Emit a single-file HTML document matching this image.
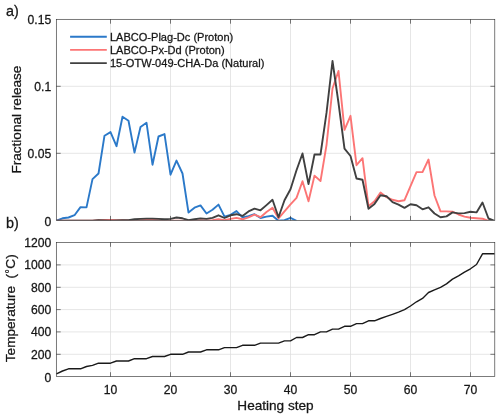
<!DOCTYPE html>
<html><head><meta charset="utf-8"><title>Fractional release and temperature by heating step</title>
<style>html,body{margin:0;padding:0;background:#fff}svg{display:block}text{font-family:"Liberation Sans",Arial,Helvetica,sans-serif;fill:#161616;stroke:#161616;stroke-width:0.26px}</style></head><body>
<svg width="500" height="418" viewBox="0 0 500 418">
<rect width="500" height="418" fill="#fff"/>
<g stroke="#dedede" stroke-width="0.75" fill="none"><line x1="110.5" y1="19.3" x2="110.5" y2="220.3"/><line x1="110.5" y1="242.4" x2="110.5" y2="376.6"/><line x1="170.5" y1="19.3" x2="170.5" y2="220.3"/><line x1="170.5" y1="242.4" x2="170.5" y2="376.6"/><line x1="230.5" y1="19.3" x2="230.5" y2="220.3"/><line x1="230.5" y1="242.4" x2="230.5" y2="376.6"/><line x1="290.5" y1="19.3" x2="290.5" y2="220.3"/><line x1="290.5" y1="242.4" x2="290.5" y2="376.6"/><line x1="350.5" y1="19.3" x2="350.5" y2="220.3"/><line x1="350.5" y1="242.4" x2="350.5" y2="376.6"/><line x1="410.5" y1="19.3" x2="410.5" y2="220.3"/><line x1="410.5" y1="242.4" x2="410.5" y2="376.6"/><line x1="470.5" y1="19.3" x2="470.5" y2="220.3"/><line x1="470.5" y1="242.4" x2="470.5" y2="376.6"/><line x1="56.3" y1="153.3" x2="494.8" y2="153.3"/><line x1="56.3" y1="86.3" x2="494.8" y2="86.3"/><line x1="56.3" y1="354.3" x2="494.8" y2="354.3"/><line x1="56.3" y1="331.9" x2="494.8" y2="331.9"/><line x1="56.3" y1="309.6" x2="494.8" y2="309.6"/><line x1="56.3" y1="287.3" x2="494.8" y2="287.3"/><line x1="56.3" y1="264.9" x2="494.8" y2="264.9"/></g>
<defs><clipPath id="c1"><rect x="56.3" y="19.3" width="438.5" height="201.0"/></clipPath></defs>
<g fill="none" stroke-width="1.9" stroke-linejoin="round" stroke-linecap="butt">
<polyline clip-path="url(#c1)" stroke="#2b79c9" points="56.5,220.7 62.5,218.3 68.5,217.5 74.5,215.2 80.5,207.1 86.5,207.4 92.5,179.1 98.5,173.5 104.5,135.7 110.5,132.1 116.5,146.2 122.5,116.7 128.5,120.7 134.5,152.6 140.5,127.0 146.5,122.7 152.5,164.7 158.5,136.5 164.5,134.1 170.5,174.7 176.5,160.6 182.5,173.5 188.5,212.6 194.5,207.7 200.5,205.4 206.5,213.5 212.5,209.8 218.5,204.6 224.5,216.7 230.5,214.8 236.5,211.1 242.5,217.4 248.5,216.1 254.5,214.2 260.5,218.0 266.5,216.6 272.5,215.7 278.5,220.8 284.5,220.1 290.5,217.8 296.5,220.8"/>
<polyline clip-path="url(#c1)" stroke="#fc7575" points="56.5,220.8 62.5,220.8 68.5,220.8 74.5,220.8 80.5,220.8 86.5,220.7 92.5,220.6 98.5,220.2 104.5,220.0 110.5,219.9 116.5,220.1 122.5,220.2 128.5,220.4 134.5,220.6 140.5,220.2 146.5,219.9 152.5,219.9 158.5,220.2 164.5,220.7 170.5,220.7 176.5,220.6 182.5,220.7 188.5,220.8 194.5,220.6 200.5,220.1 206.5,220.4 212.5,220.1 218.5,219.2 224.5,220.2 230.5,218.9 236.5,217.9 242.5,219.3 248.5,217.4 254.5,214.6 260.5,217.2 266.5,212.0 272.5,207.8 278.5,218.4 284.5,211.3 290.5,204.3 296.5,197.9 302.5,181.2 308.5,201.3 314.5,175.6 320.5,181.0 326.5,145.1 332.5,88.5 338.5,71.0 344.5,129.8 350.5,115.8 356.5,165.2 362.5,158.2 368.5,206.3 374.5,201.2 380.5,192.6 386.5,197.2 392.5,199.8 398.5,201.2 404.5,200.2 410.5,186.2 416.5,172.1 422.5,172.1 428.5,159.5 434.5,195.5 440.5,211.4 446.5,211.4 452.5,211.7 458.5,214.5 464.5,216.6 470.5,217.8 476.5,218.3 482.5,218.7 488.5,221.0"/>
<polyline clip-path="url(#c1)" stroke="#404040" points="56.5,220.8 62.5,220.7 68.5,220.7 74.5,220.7 80.5,220.7 86.5,220.6 92.5,220.6 98.5,220.1 104.5,220.4 110.5,220.6 116.5,220.4 122.5,220.2 128.5,220.1 134.5,219.2 140.5,218.9 146.5,218.6 152.5,218.6 158.5,218.9 164.5,219.2 170.5,218.9 176.5,217.5 182.5,218.3 188.5,220.2 194.5,219.3 200.5,218.4 206.5,218.9 212.5,217.9 218.5,215.3 224.5,218.0 230.5,215.3 236.5,214.2 242.5,215.9 248.5,211.4 254.5,208.6 260.5,210.3 266.5,205.1 272.5,199.8 278.5,217.2 284.5,200.3 290.5,189.2 296.5,170.2 302.5,153.5 308.5,184.1 314.5,154.5 320.5,154.5 326.5,112.9 332.5,61.0 338.5,103.0 344.5,148.6 350.5,156.0 356.5,178.5 362.5,179.8 368.5,208.7 374.5,203.9 380.5,195.2 386.5,196.2 392.5,202.2 398.5,204.7 404.5,207.9 410.5,204.3 416.5,205.3 422.5,209.3 428.5,207.3 434.5,213.5 440.5,217.3 446.5,216.4 452.5,212.4 458.5,213.4 464.5,213.1 470.5,211.7 476.5,212.4 482.5,202.5 488.5,218.5 494.5,221.0"/>
<polyline stroke="#1a1a1a" stroke-width="1.4" points="56.5,373.8 62.5,371.0 68.5,368.8 74.5,368.8 80.5,368.8 86.5,366.5 92.5,365.4 98.5,363.2 104.5,363.2 110.5,363.2 116.5,361.0 122.5,361.0 128.5,361.0 134.5,358.7 140.5,358.7 146.5,358.7 152.5,356.5 158.5,356.5 164.5,356.5 170.5,354.3 176.5,354.3 182.5,354.3 188.5,352.0 194.5,352.0 200.5,352.0 206.5,349.8 212.5,349.8 218.5,349.8 224.5,347.6 230.5,347.6 236.5,347.6 242.5,345.3 248.5,345.3 254.5,345.3 260.5,343.1 266.5,343.1 272.5,343.1 278.5,343.1 284.5,340.9 290.5,340.9 296.5,337.5 302.5,337.5 308.5,334.7 314.5,334.7 320.5,331.9 326.5,331.9 332.5,329.1 338.5,329.1 344.5,326.3 350.5,326.3 356.5,323.6 362.5,323.6 368.5,320.8 374.5,320.8 380.5,318.5 386.5,316.4 392.5,314.3 398.5,312.1 404.5,309.6 410.5,306.0 416.5,301.8 422.5,298.4 428.5,292.5 434.5,289.9 440.5,287.3 446.5,283.9 452.5,279.1 458.5,275.8 464.5,272.2 470.5,268.8 476.5,264.5 482.5,253.8 488.5,253.8 494.5,253.8"/>
<line stroke="#2b79c9" x1="70.1" y1="36.7" x2="106.8" y2="36.7"/>
<line stroke="#fc7575" x1="70.1" y1="49.9" x2="106.8" y2="49.9"/>
<line stroke="#404040" x1="70.1" y1="63.1" x2="106.8" y2="63.1"/>
</g>
<g stroke="#2a2a2a" stroke-width="0.62" fill="none"><rect x="56.3" y="19.3" width="438.5" height="201.0"/><rect x="56.3" y="242.4" width="438.5" height="134.2"/><line x1="110.5" y1="220.3" x2="110.5" y2="215.9"/><line x1="110.5" y1="19.3" x2="110.5" y2="23.7"/><line x1="110.5" y1="376.6" x2="110.5" y2="372.2"/><line x1="110.5" y1="242.4" x2="110.5" y2="246.8"/><line x1="170.5" y1="220.3" x2="170.5" y2="215.9"/><line x1="170.5" y1="19.3" x2="170.5" y2="23.7"/><line x1="170.5" y1="376.6" x2="170.5" y2="372.2"/><line x1="170.5" y1="242.4" x2="170.5" y2="246.8"/><line x1="230.5" y1="220.3" x2="230.5" y2="215.9"/><line x1="230.5" y1="19.3" x2="230.5" y2="23.7"/><line x1="230.5" y1="376.6" x2="230.5" y2="372.2"/><line x1="230.5" y1="242.4" x2="230.5" y2="246.8"/><line x1="290.5" y1="220.3" x2="290.5" y2="215.9"/><line x1="290.5" y1="19.3" x2="290.5" y2="23.7"/><line x1="290.5" y1="376.6" x2="290.5" y2="372.2"/><line x1="290.5" y1="242.4" x2="290.5" y2="246.8"/><line x1="350.5" y1="220.3" x2="350.5" y2="215.9"/><line x1="350.5" y1="19.3" x2="350.5" y2="23.7"/><line x1="350.5" y1="376.6" x2="350.5" y2="372.2"/><line x1="350.5" y1="242.4" x2="350.5" y2="246.8"/><line x1="410.5" y1="220.3" x2="410.5" y2="215.9"/><line x1="410.5" y1="19.3" x2="410.5" y2="23.7"/><line x1="410.5" y1="376.6" x2="410.5" y2="372.2"/><line x1="410.5" y1="242.4" x2="410.5" y2="246.8"/><line x1="470.5" y1="220.3" x2="470.5" y2="215.9"/><line x1="470.5" y1="19.3" x2="470.5" y2="23.7"/><line x1="470.5" y1="376.6" x2="470.5" y2="372.2"/><line x1="470.5" y1="242.4" x2="470.5" y2="246.8"/><line x1="56.3" y1="153.3" x2="60.7" y2="153.3"/><line x1="494.8" y1="153.3" x2="490.4" y2="153.3"/><line x1="56.3" y1="86.3" x2="60.7" y2="86.3"/><line x1="494.8" y1="86.3" x2="490.4" y2="86.3"/><line x1="56.3" y1="354.3" x2="60.7" y2="354.3"/><line x1="494.8" y1="354.3" x2="490.4" y2="354.3"/><line x1="56.3" y1="331.9" x2="60.7" y2="331.9"/><line x1="494.8" y1="331.9" x2="490.4" y2="331.9"/><line x1="56.3" y1="309.6" x2="60.7" y2="309.6"/><line x1="494.8" y1="309.6" x2="490.4" y2="309.6"/><line x1="56.3" y1="287.3" x2="60.7" y2="287.3"/><line x1="494.8" y1="287.3" x2="490.4" y2="287.3"/><line x1="56.3" y1="264.9" x2="60.7" y2="264.9"/><line x1="494.8" y1="264.9" x2="490.4" y2="264.9"/></g>
<g font-size="12.15px" text-anchor="end"><text x="51.2" y="226.1">0</text><text x="51.2" y="157.7">0.05</text><text x="51.2" y="90.7">0.1</text><text x="51.2" y="23.7">0.15</text><text x="51.2" y="382.4">0</text><text x="51.2" y="358.7">200</text><text x="51.2" y="336.3">400</text><text x="51.2" y="314.0">600</text><text x="51.2" y="291.7">800</text><text x="51.2" y="269.3">1000</text><text x="51.2" y="247.0">1200</text></g><g font-size="12.15px" text-anchor="middle"><text x="110.5" y="394">10</text><text x="170.5" y="394">20</text><text x="230.5" y="394">30</text><text x="290.5" y="394">40</text><text x="350.5" y="394">50</text><text x="410.5" y="394">60</text><text x="470.5" y="394">70</text></g><text font-size="13.6px" text-anchor="middle" x="275.5" y="410.3">Heating step</text><text font-size="13.6px" text-anchor="middle" transform="translate(21.1,119.6) rotate(-90)">Fractional release</text><text font-size="13.6px" transform="translate(15.1,362.2) rotate(-90)">Temperature</text><text font-size="13.6px" transform="translate(15.1,278.6) rotate(-90)">(<tspan font-size="10.6px" dx="0.6" dy="-1.7">°</tspan><tspan dx="0.6" dy="1.7">C)</tspan></text><text font-size="14.4px" x="5.9" y="16">a)</text><text font-size="14.4px" x="5.9" y="228">b)</text><g font-size="11.05px"><text x="109.9" y="40.5">LABCO-Plag-Dc (Proton)</text><text x="109.9" y="53.7">LABCO-Px-Dd (Proton)</text><text x="109.9" y="66.9">15-OTW-049-CHA-Da (Natural)</text></g>
</svg></body></html>
